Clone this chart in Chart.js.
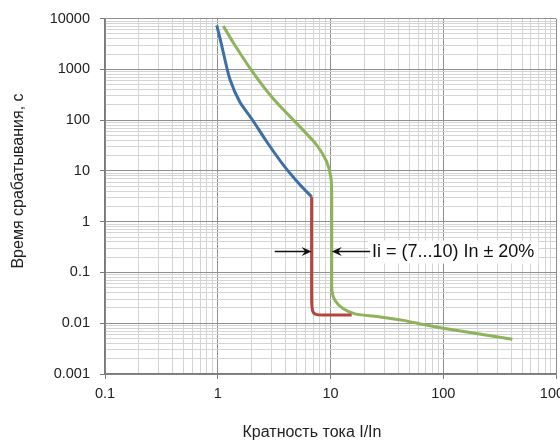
<!DOCTYPE html>
<html>
<head>
<meta charset="utf-8">
<script src="https://cdn.jsdelivr.net/npm/chart.js@4/dist/chart.umd.min.js"></script>
<style>
  html, body { margin: 0; padding: 0; background: #fff; }
  #wrap { width: 560px; height: 443px; }
</style>
</head>
<body>
<div id="wrap"><canvas id="chart" width="560" height="443"></canvas></div>
<script>
// decade ticks (only these get labels)
const xDecades = [0.1, 1, 10, 100, 1000];
const xDecadeLabels = ["0.1", "1", "10", "100", "1000"];
const yDecades = [0.001, 0.01, 0.1, 1, 10, 100, 1000, 10000];
const yDecadeLabels = ["0.001", "0.01", "0.1", "1", "10", "100", "1000", "10000"];

// lower thermal curve (blue)
const lowX = [0.98, 1.05, 1.12, 1.28, 1.57, 2.0, 2.72, 3.81, 5.36, 6.8];
const lowY = [7400, 4000, 2160, 650, 228, 107, 37.6, 13.2, 5.36, 3.1];

// instantaneous release, lower limit (red)
const instX = [6.8, 6.8, 6.85, 7.05, 7.6, 9, 15.4];
const instY = [3.1, 0.04, 0.021, 0.0162, 0.0148, 0.0145, 0.0146];

// upper thermal + instantaneous curve (green)
const highX = [1.12, 1.37, 2.0, 3.11, 5.36, 7.55, 9.25, 10.1, 10.25, 10.25, 10.3, 10.97, 13.0, 16.5, 27.5, 44.3, 66.5, 100, 410];
const highY = [7200, 3400, 950, 264, 74, 32.4, 15.3, 7.2, 2.93, 0.1, 0.044, 0.028, 0.0192, 0.0153, 0.0133, 0.0114, 0.0095, 0.008, 0.00483];

// annotation "Ii = (7...10) In ± 20%"
const noteText = "Ii = (7...10) In \u00b1 20%";
const noteY = 0.27;
const noteArrowLeft = [3.2, 6.8];    // tail, tip (points right)
const noteArrowRight = [22.5, 10.25]; // tail, tip (points left)
const noteTextX = 23.3;

const xTitle = "Кратность тока I/In";
const yTitle = "Время срабатывания, с";

const FONT = "Arial, 'Liberation Sans', sans-serif";

function toPoints(xs, ys) {
  return xs.map((x, i) => ({ x: x, y: ys[i] }));
}

function logTicks(decades) {
  const t = [];
  for (let i = 0; i < decades.length - 1; i++) {
    for (let m = 1; m < 10; m++) t.push({ value: m * decades[i] });
  }
  t.push({ value: decades[decades.length - 1] });
  return t;
}

function decadeIndex(v, decades) {
  return decades.findIndex((d) => Math.abs(v - d) / d < 1e-6);
}

function axis(decades, labels, padding, afterFit) {
  return {
    type: "logarithmic",
    min: decades[0],
    max: decades[decades.length - 1],
    afterBuildTicks: (scale) => { scale.ticks = logTicks(decades); },
    afterFit: afterFit,
    ticks: {
      autoSkip: false,
      maxRotation: 0,
      padding: padding,
      color: "#222",
      font: { family: FONT, size: 14.5 },
      callback: (v) => {
        const i = decadeIndex(v, decades);
        return i >= 0 ? labels[i] : "";
      },
    },
    grid: {
      tickLength: 5,
      lineWidth: 1,
      color: (c) => decadeIndex(c.tick.value, decades) >= 0 ? "#8f8f8f" : "#d4d4d4",
      tickColor: (c) => decadeIndex(c.tick.value, decades) >= 0 ? "#7a7a7a" : "rgba(0,0,0,0)",
    },
    border: { color: "#7a7a7a", width: 1.5 },
  };
}

function arrowHead(ctx, tip, y, dir) {
  ctx.beginPath();
  ctx.moveTo(tip, y);
  ctx.lineTo(tip - 10 * dir, y - 4.5);
  ctx.lineTo(tip - 6.5 * dir, y);
  ctx.lineTo(tip - 10 * dir, y + 4.5);
  ctx.closePath();
  ctx.fill();
}

const annotate = {
  id: "annotate",
  afterDatasetsDraw(chart) {
    const { ctx, scales: { x, y } } = chart;
    const py = Math.round(y.getPixelForValue(noteY)) + 0.5;
    ctx.save();
    ctx.font = "18px " + FONT;
    const tx = x.getPixelForValue(noteTextX);
    const tw = ctx.measureText(noteText).width;
    ctx.fillStyle = "#fff";
    ctx.fillRect(tx - 4, py - 11, tw + 8, 23);

    ctx.strokeStyle = "#111";
    ctx.fillStyle = "#111";
    ctx.lineWidth = 1.3;
    [noteArrowLeft, noteArrowRight].forEach(([tail, tip]) => {
      const a = x.getPixelForValue(tail), b = x.getPixelForValue(tip);
      const dir = b > a ? 1 : -1;
      ctx.beginPath();
      ctx.moveTo(a, py);
      ctx.lineTo(b - 5 * dir, py);
      ctx.stroke();
      arrowHead(ctx, b, py, dir);
    });

    ctx.fillStyle = "#111";
    ctx.textBaseline = "middle";
    ctx.textAlign = "left";
    ctx.fillText(noteText, tx, py + 1);
    ctx.restore();
  },
  afterDraw(chart) {
    const ctx = chart.ctx;
    ctx.save();
    ctx.font = "16px " + FONT;
    ctx.fillStyle = "#222";
    ctx.textAlign = "center";
    ctx.textBaseline = "middle";
    ctx.fillText(xTitle, 312, 433);
    ctx.translate(19, 181);
    ctx.rotate(-Math.PI / 2);
    ctx.fillText(yTitle, 0, 0);
    ctx.restore();
  },
};

function series(label, xs, ys, color) {
  return {
    label: label,
    data: toPoints(xs, ys),
    borderColor: color,
    backgroundColor: color,
    borderWidth: 3,
    pointRadius: 0,
    tension: 0.25,
    fill: false,
  };
}

new Chart(document.getElementById("chart"), {
  type: "line",
  data: {
    datasets: [
      series("inst", instX, instY, "#b5443f"),
      series("low", lowX, lowY, "#3c6eaa"),
      series("high", highX, highY, "#8db45a"),
    ],
  },
  options: {
    responsive: false,
    animation: false,
    layout: { padding: { top: 16, right: 4, left: 0, bottom: 0 } },
    plugins: { legend: { display: false }, tooltip: { enabled: false } },
    scales: {
      x: axis(xDecades, xDecadeLabels, 6, (s) => { s.height = 69; s.paddingRight = 0; s.paddingLeft = 0; }),
      y: axis(yDecades, yDecadeLabels, 10, (s) => { s.width = 105; }),
    },
  },
  plugins: [annotate],
});
</script>
</body>
</html>
